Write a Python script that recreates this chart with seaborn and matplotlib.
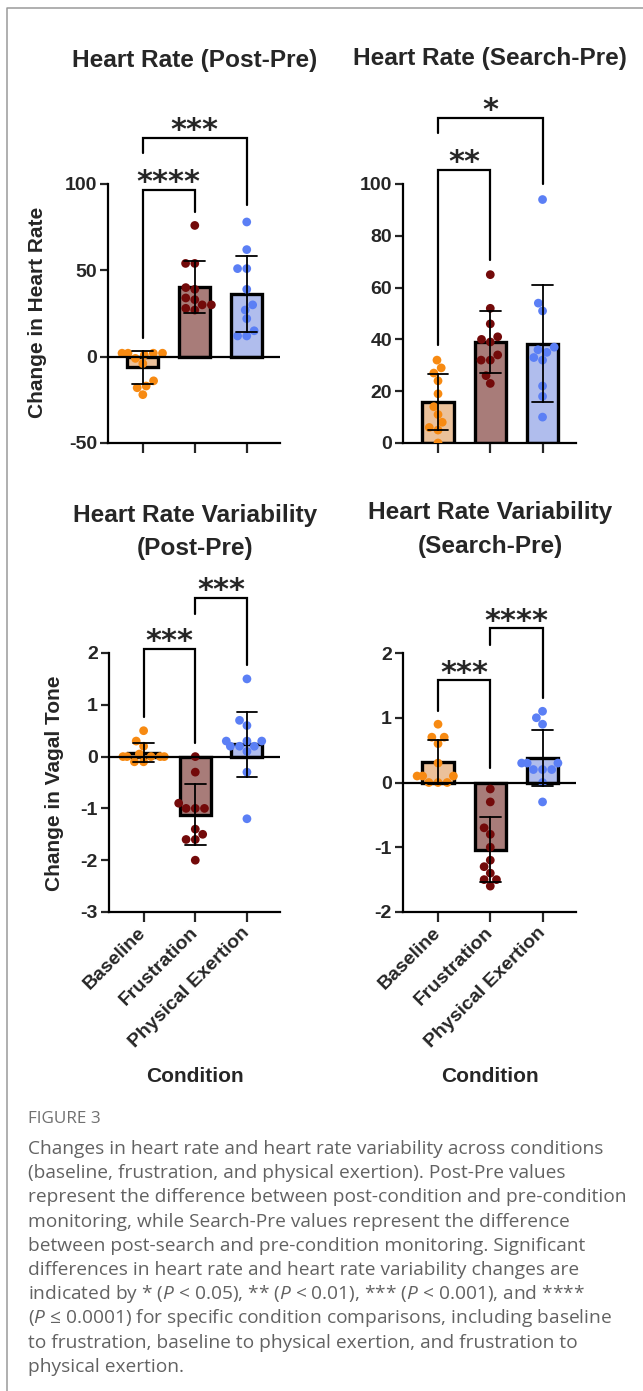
import numpy as np
import pandas as pd
import matplotlib.pyplot as plt
import seaborn as sns
from matplotlib.lines import Line2D

# ---- data ----
conditions = ['Baseline', 'Frustration', 'Physical Exertion']
bar_colors = ['#F9C18C', '#B07571', '#A6B7F7']
dot_colors = ['#F78A12', '#730A0A', '#5B7FF5']

hr_post_baseline = [2, 2, 1, 2, 2, -1, -4, -14, -17, -18, -22]
hr_post_frustration = [76, 54, 54, 40, 39, 34, 33, 30, 30, 27, 28]
hr_post_physical = [78, 62, 51, 51, 39, 30, 27, 22, 15, 12, 12]

hr_search_baseline = [32, 29, 27, 24, 19, 14, 11, 8, 6, 5, 0]
hr_search_frustration = [65, 52, 46, 41, 40, 39, 34, 32, 32, 26, 23]
hr_search_physical = [94, 54, 51, 37, 36, 35, 33, 32, 22, 18, 10]

hrv_post_baseline = [0.5, 0.3, 0.2, 0.05, 0.0, 0.0, 0.0, 0.0, 0.0, -0.1, -0.1]
hrv_post_frustration = [0.0, -0.3, -0.9, -1.0, -1.0, -1.0, -1.4, -1.5, -1.6, -1.6, -2.0]
hrv_post_physical = [1.5, 0.7, 0.6, 0.3, 0.3, 0.3, 0.2, 0.2, 0.2, 0.1, -0.3, -1.2]

hrv_search_baseline = [0.9, 0.7, 0.7, 0.6, 0.3, 0.1, 0.1, 0.1, 0.0, 0.0, 0.0]
hrv_search_frustration = [-0.1, -0.3, -0.7, -0.8, -1.0, -1.2, -1.3, -1.4, -1.5, -1.5, -1.6]
hrv_search_physical = [1.1, 1.0, 0.9, 0.3, 0.3, 0.3, 0.2, 0.2, 0.2, 0.0, -0.3]

# significance brackets: (from, to, label, top, left leg end, right leg end)
brackets_hr_post = [(0, 1, '****', 96.5, 11, 84), (0, 2, '***', 126.7, 118, 88)]
brackets_hr_search = [(0, 1, '**', 105.4, 37.8, 70.7), (0, 2, '*', 125.5, 119.7, 100)]
brackets_hrv_post = [(0, 1, '***', 2.08, 0.77, 0.27), (1, 2, '***', 3.06, 2.75, 1.77)]
brackets_hrv_search = [(0, 1, '***', 1.58, 1.11, 0.22), (1, 2, '****', 2.38, 2.12, 1.31)]

caption_lines = [
    "Changes in heart rate and heart rate variability across conditions",
    "(baseline, frustration, and physical exertion). Post-Pre values",
    "represent the difference between post-condition and pre-condition",
    "monitoring, while Search-Pre values represent the difference",
    "between post-search and pre-condition monitoring. Significant",
    "differences in heart rate and heart rate variability changes are",
    r"indicated by * ($\mathit{P}$ < 0.05), ** ($\mathit{P}$ < 0.01), *** ($\mathit{P}$ < 0.001), and ****",
    r"($\mathit{P}$ ≤ 0.0001) for specific condition comparisons, including baseline",
    "to frustration, baseline to physical exertion, and frustration to",
    "physical exertion.",
]

sns.set_theme(style='ticks')
plt.rcParams['font.family'] = ['Liberation Sans', 'DejaVu Sans']
plt.rcParams['axes.unicode_minus'] = False
plt.rcParams['mathtext.fontset'] = 'custom'
plt.rcParams['mathtext.rm'] = 'Open Sans'
plt.rcParams['mathtext.it'] = 'Open Sans:italic'

W, H = 643, 1391


def fx(x):
    return x / W


def fy(y):
    return 1 - y / H


def make_frame(groups):
    return pd.DataFrame({
        'condition': np.repeat(conditions, [len(g) for g in groups]),
        'value': np.concatenate(groups),
    })


def draw_panel(ax, groups, ylim, yticks, brackets, show_xlabels):
    df = make_frame(groups)
    sns.barplot(data=df, x='condition', y='value', hue='condition', order=conditions,
                palette=bar_colors, errorbar='sd', width=0.6, edgecolor='black',
                linewidth=2.4, capsize=0.4, err_kws={'color': 'black', 'linewidth': 1.3},
                legend=False, ax=ax, zorder=2)
    for line in ax.lines:
        line.set_zorder(4)
    sns.swarmplot(data=df, x='condition', y='value', hue='condition', order=conditions,
                  palette=dot_colors, size=6.3, linewidth=0, legend=False, ax=ax, zorder=3)

    ax.set_xlim(-0.67, 2.64)
    ax.set_ylim(*ylim)
    ax.set_yticks(yticks)
    ax.set_xlabel('')
    ax.set_ylabel('')
    sns.despine(ax=ax)
    for side in ['left', 'bottom']:
        ax.spines[side].set_linewidth(1.6)
        ax.spines[side].set_color('black')
    if ylim[0] < 0:
        ax.axhline(0, color='black', linewidth=1.6, zorder=5)
    ax.tick_params(axis='y', direction='out', length=6, width=1.6, labelsize=14, pad=2)
    ax.tick_params(axis='x', direction='out', length=7, width=1.6, labelsize=14, pad=6)
    for lab in ax.get_yticklabels():
        lab.set_fontweight('bold')
    if show_xlabels:
        for lab in ax.get_xticklabels():
            lab.set_rotation(45)
            lab.set_ha('right')
            lab.set_va('center')
            lab.set_rotation_mode('anchor')
            lab.set_fontweight('bold')
    else:
        ax.set_xticklabels([])

    for i, j, label, top, left_end, right_end in brackets:
        ax.add_line(Line2D([i, i, j, j], [left_end, top, top, right_end], color='black',
                           linewidth=1.6, clip_on=False, solid_joinstyle='miter'))
        ax.annotate(label, xy=((i + j) / 2, top), xytext=(0, -1), textcoords='offset points',
                    ha='center', va='baseline', fontsize=22, fontweight='bold',
                    family='DejaVu Sans', annotation_clip=False)


fig = plt.figure(figsize=(W / 100, H / 100), dpi=100)

ax1 = fig.add_axes([fx(108), fy(443), (280 - 108) / W, (443 - 184) / H])
ax2 = fig.add_axes([fx(403), fy(443), (576 - 403) / W, (443 - 184) / H])
ax3 = fig.add_axes([fx(109), fy(912), (280 - 109) / W, (912 - 653) / H])
ax4 = fig.add_axes([fx(403), fy(912), (576 - 403) / W, (912 - 653) / H])

draw_panel(ax1, [hr_post_baseline, hr_post_frustration, hr_post_physical],
           (-50, 100), [-50, 0, 50, 100], brackets_hr_post, False)
draw_panel(ax2, [hr_search_baseline, hr_search_frustration, hr_search_physical],
           (0, 100), [0, 20, 40, 60, 80, 100], brackets_hr_search, False)
draw_panel(ax3, [hrv_post_baseline, hrv_post_frustration, hrv_post_physical],
           (-3, 2), [-3, -2, -1, 0, 1, 2], brackets_hrv_post, True)
draw_panel(ax4, [hrv_search_baseline, hrv_search_frustration, hrv_search_physical],
           (-2, 2), [-2, -1, 0, 1, 2], brackets_hrv_search, True)

title_kw = dict(ha='center', va='center', fontsize=17.6, fontweight='bold')
fig.text(fx(195), fy(60), 'Heart Rate (Post-Pre)', **title_kw)
fig.text(fx(490), fy(58), 'Heart Rate (Search-Pre)', **title_kw)
fig.text(fx(195), fy(515), 'Heart Rate Variability', **title_kw)
fig.text(fx(195), fy(548), '(Post-Pre)', **title_kw)
fig.text(fx(490), fy(513), 'Heart Rate Variability', **title_kw)
fig.text(fx(490), fy(547), '(Search-Pre)', **title_kw)

label_kw = dict(ha='center', va='center', fontsize=15, fontweight='bold')
fig.text(fx(38), fy(312), 'Change in Heart Rate', rotation=90, **label_kw)
fig.text(fx(55), fy(783), 'Change in Vagal Tone', rotation=90, **label_kw)
fig.text(fx(195), fy(1077), 'Condition', **label_kw)
fig.text(fx(490), fy(1077), 'Condition', **label_kw)

# caption
cap_font = ['Open Sans', 'DejaVu Sans']
fig.text(fx(28), fy(1119), 'FIGURE 3', ha='left', va='center', fontsize=12.3,
         color='#707070', family=cap_font, fontweight='normal')
for k, line in enumerate(caption_lines):
    fig.text(fx(28), fy(1149 + 24.2 * k), line, ha='left', va='center', fontsize=13.8,
             color='#626262', family=cap_font, fontweight='normal')

# frame around the figure block
fig.add_artist(Line2D([fx(6.5), fx(6.5), 1.02], [-0.01, fy(8), fy(8)],
                      transform=fig.transFigure, color='#9a9a9a', linewidth=1.1))

fig.savefig('out.png', dpi=100)
